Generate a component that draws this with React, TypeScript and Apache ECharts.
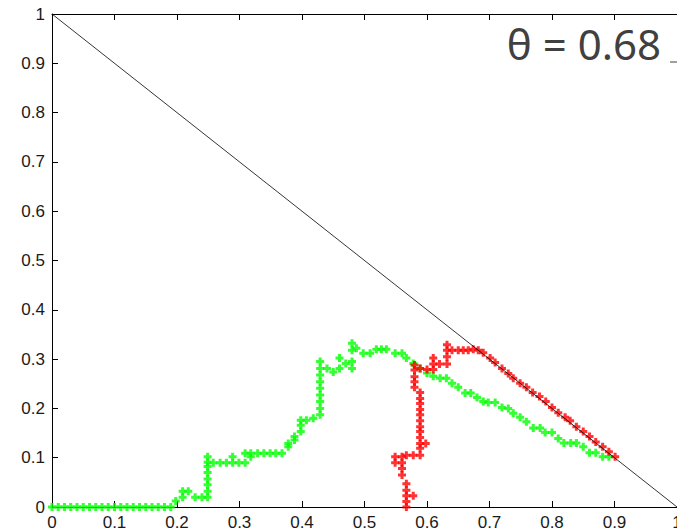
import React, { useEffect, useRef } from "react";
import * as echarts from "echarts";

const xTickLabels = ["0", "0.1", "0.2", "0.3", "0.4", "0.5", "0.6", "0.7", "0.8", "0.9", "1"];
const yTickLabels = ["0", "0.1", "0.2", "0.3", "0.4", "0.5", "0.6", "0.7", "0.8", "0.9", "1"];

const diagonal: number[][] = [[0, 1], [1, 0]];

const greenPoints: number[][] = [
  [0, 0], [0.01, 0], [0.02, 0], [0.03, 0], [0.04, 0], [0.05, 0], [0.06, 0], [0.07, 0], [0.08, 0], [0.09, 0],
  [0.1, 0], [0.11, 0], [0.12, 0], [0.13, 0], [0.14, 0], [0.15, 0], [0.16, 0], [0.17, 0], [0.18, 0], [0.19, 0],
  [0.198, 0.012], [0.209, 0.02], [0.209, 0.032], [0.218, 0.032], [0.229, 0.02], [0.24, 0.02],
  [0.249, 0.02], [0.249, 0.032], [0.249, 0.045], [0.249, 0.057], [0.249, 0.07], [0.249, 0.082], [0.249, 0.091], [0.249, 0.102],
  [0.258, 0.09], [0.269, 0.09], [0.279, 0.09], [0.289, 0.09], [0.289, 0.102], [0.299, 0.09], [0.309, 0.09], [0.309, 0.109],
  [0.318, 0.102], [0.318, 0.109], [0.329, 0.109], [0.339, 0.109], [0.349, 0.109], [0.358, 0.109], [0.368, 0.109],
  [0.378, 0.122], [0.378, 0.129], [0.388, 0.136], [0.388, 0.143], [0.398, 0.153], [0.398, 0.166], [0.398, 0.176],
  [0.407, 0.176], [0.418, 0.18],
  [0.429, 0.187], [0.429, 0.2], [0.429, 0.214], [0.429, 0.227], [0.429, 0.241], [0.429, 0.254], [0.429, 0.268], [0.429, 0.281], [0.429, 0.295],
  [0.44, 0.281], [0.45, 0.274], [0.46, 0.281], [0.46, 0.302], [0.47, 0.291], [0.48, 0.281], [0.48, 0.295], [0.48, 0.318], [0.48, 0.332],
  [0.487, 0.322], [0.498, 0.312], [0.509, 0.312], [0.519, 0.32], [0.527, 0.32], [0.535, 0.32], [0.549, 0.312], [0.56, 0.312], [0.567, 0.302],
  [0.578, 0.291], [0.589, 0.281], [0.6, 0.272], [0.61, 0.265],
  [0.621, 0.261], [0.631, 0.261], [0.64, 0.251], [0.65, 0.243], [0.661, 0.231], [0.67, 0.231], [0.68, 0.222], [0.69, 0.214],
  [0.698, 0.212], [0.709, 0.212], [0.72, 0.202], [0.73, 0.2], [0.738, 0.19], [0.749, 0.182], [0.759, 0.173], [0.77, 0.16],
  [0.781, 0.16], [0.789, 0.151], [0.8, 0.151], [0.81, 0.139], [0.819, 0.13], [0.83, 0.13], [0.839, 0.13], [0.85, 0.122],
  [0.86, 0.11], [0.87, 0.11], [0.881, 0.102], [0.891, 0.102],
];

const redPoints: number[][] = [
  [0.567, 0.0], [0.567, 0.011], [0.567, 0.023], [0.578, 0.023], [0.567, 0.034], [0.567, 0.047],
  [0.56, 0.065], [0.56, 0.078], [0.56, 0.09], [0.549, 0.09], [0.549, 0.102], [0.56, 0.102],
  [0.567, 0.105], [0.578, 0.105], [0.589, 0.105], [0.589, 0.119], [0.598, 0.129], [0.589, 0.129],
  [0.589, 0.141], [0.589, 0.153], [0.589, 0.163], [0.589, 0.175], [0.589, 0.187], [0.589, 0.198],
  [0.589, 0.21], [0.589, 0.22], [0.589, 0.232], [0.58, 0.243], [0.58, 0.254], [0.58, 0.264],
  [0.58, 0.278], [0.58, 0.288], [0.589, 0.281], [0.6, 0.279], [0.61, 0.279], [0.61, 0.29],
  [0.61, 0.302], [0.62, 0.29], [0.632, 0.29], [0.632, 0.305], [0.632, 0.318], [0.632, 0.329],
  [0.64, 0.318], [0.65, 0.318], [0.658, 0.318], [0.666, 0.318], [0.674, 0.32], [0.682, 0.318], [0.69, 0.313],
  [0.701, 0.302], [0.709, 0.293], [0.72, 0.281], [0.73, 0.271], [0.738, 0.261], [0.749, 0.251],
  [0.759, 0.243], [0.769, 0.232], [0.78, 0.224], [0.79, 0.214], [0.8, 0.202], [0.81, 0.191],
  [0.821, 0.182], [0.829, 0.175], [0.839, 0.163], [0.85, 0.153], [0.86, 0.143], [0.87, 0.132],
  [0.881, 0.122], [0.891, 0.112], [0.901, 0.102],
];

const annotation = "θ = 0.68";

const plusSymbol = "path://M2.5,0H5.5V2.5H8V5.5H5.5V8H2.5V5.5H0V2.5H2.5Z";

export default function App() {
  const ref = useRef<HTMLDivElement>(null);
  useEffect(() => {
    document.body.style.margin = "0";
    if (!ref.current) return;
    const chart = echarts.init(ref.current, undefined, { renderer: "svg" });
    const axisFont = { fontFamily: "Liberation Sans", fontSize: 17, color: "#1a1a1a" };
    chart.setOption({
      animation: false,
      backgroundColor: "#ffffff",
      grid: { left: 52, top: 14, right: 0, bottom: 25, containLabel: false, outerBoundsMode: "none" },
      xAxis: [
        {
          type: "value", min: 0, max: 1, interval: 0.1, position: "bottom",
          axisLine: { show: true, onZero: false, lineStyle: { color: "#000", width: 1 } },
          axisTick: { show: true, inside: true, length: 6, lineStyle: { color: "#000" } },
          splitLine: { show: false },
          axisLabel: { ...axisFont, margin: 7, lineHeight: 17, formatter: (_v: number, i: number) => xTickLabels[i] ?? "" },
        },
        {
          type: "value", min: 0, max: 1, interval: 0.1, position: "top",
          axisLine: { show: true, onZero: false, lineStyle: { color: "#000", width: 1 } },
          axisTick: { show: true, inside: true, length: 6, lineStyle: { color: "#000" } },
          splitLine: { show: false },
          axisLabel: { show: false },
        },
      ],
      yAxis: [
        {
          type: "value", min: 0, max: 1, interval: 0.1,
          axisLine: { show: true, onZero: false, lineStyle: { color: "#000", width: 1 } },
          axisTick: { show: true, inside: true, length: 6, lineStyle: { color: "#000" } },
          splitLine: { show: false },
          axisLabel: { ...axisFont, margin: 7, formatter: (_v: number, i: number) => yTickLabels[i] ?? "" },
        },
      ],
      series: [
        {
          type: "line", data: diagonal, symbol: "none", silent: true,
          lineStyle: { color: "#000", width: 0.8 },
        },
        {
          type: "scatter", data: greenPoints, symbol: plusSymbol, symbolSize: 8,
          itemStyle: { color: "#00ff00" },
        },
        {
          type: "scatter", data: redPoints, symbol: plusSymbol, symbolSize: 8,
          itemStyle: { color: "#ff0000" },
        },
      ],
      graphic: [
        {
          type: "text", right: 16, top: 22,
          style: { text: annotation, fontFamily: "Noto Sans", fontSize: 42, fill: "#404040" },
        },
        {
          type: "line", shape: { x1: 670, y1: 62, x2: 677, y2: 62 },
          style: { stroke: "#404040", lineWidth: 1 },
        },
      ],
    });
    return () => chart.dispose();
  }, []);
  return <div ref={ref} style={{ width: 677, height: 532, position: "absolute", left: 0, top: 0 }} />;
}
